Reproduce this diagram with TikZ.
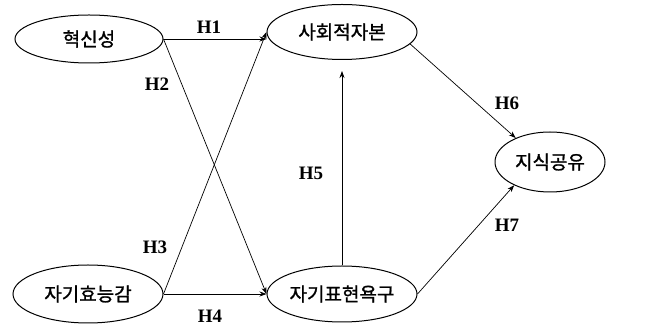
\documentclass[tikz,border=0pt]{standalone}
\usepackage{fontspec}
\setmainfont{Liberation Serif}
\newfontfamily\kr[FakeBold=1.2]{Noto Sans CJK KR}
\usetikzlibrary{shapes.geometric,arrows.meta}
\begin{document}
\begin{tikzpicture}[x=1pt,y=1pt,
  var/.style={ellipse,draw,line width=1pt,inner sep=0pt,font=\kr\fontsize{19}{19}\selectfont},
  hyp/.style={font=\bfseries\fontsize{19}{19}\selectfont,inner sep=0pt},
  arr/.style={-{Stealth[length=7pt,width=5pt]},line width=0.7pt}]
\useasboundingbox (0,0) rectangle (651,329);
\node[var,minimum width=148,minimum height=48] (hyuk) at (89,290) {혁신성};
\node[var,minimum width=150,minimum height=55] (sahoe) at (342,297) {사회적자본};
\node[var,minimum width=150,minimum height=58] (jagi) at (88,35) {자기효능감};
\node[var,minimum width=150,minimum height=56] (pyo) at (342,35) {자기표현욕구};
\node[var,minimum width=110,minimum height=60] (jisik) at (550,167) {지식공유};
\draw[arr] (hyuk.east) -- (sahoe.west |- hyuk.east);
\draw[arr] (hyuk.east) -- (pyo.west);
\draw[arr] (jagi.east) -- (sahoe.west);
\draw[arr] (jagi.east) -- (pyo.west);
\draw[arr,shorten >=11pt] (pyo.north) -- (sahoe.south);
\draw[arr] (sahoe.-10) -- (jisik.145);
\draw[arr] (pyo.east) -- (jisik.213);
\node[hyp] (h1) at (209,302) {H1};
\node[hyp] (h2) at (157,245) {H2};
\node[hyp] (h3) at (155,82) {H3};
\node[hyp] (h4) at (210,13) {H4};
\node[hyp] (h5) at (311,156) {H5};
\node[hyp] (h6) at (507,226) {H6};
\node[hyp] (h7) at (507,104) {H7};
\end{tikzpicture}
\end{document}
